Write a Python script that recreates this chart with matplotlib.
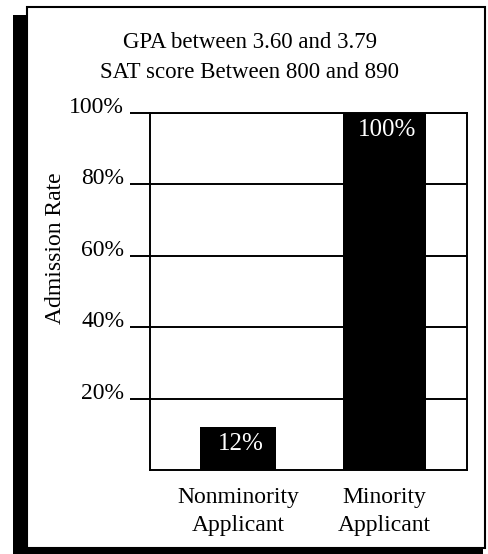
import matplotlib
matplotlib.use("Agg")
import matplotlib.pyplot as plt
from matplotlib.patches import Rectangle

plt.rcParams['font.family'] = ['Liberation Serif', 'DejaVu Serif']

###Donnees###
categories = ['Nonminority\nApplicant', 'Minority\nApplicant']
rates = [12, 100]
ytick_vals = [20, 40, 60, 80, 100]
title_lines = ['GPA between 3.60 and 3.79', 'SAT score Between 800 and 890']
#############

fig = plt.figure(figsize=(4.89, 5.54), dpi=100)

# cadre avec ombre noire
shadow = Rectangle((0.0266, 0.0), 0.961, 0.973, transform=fig.transFigure,
                   facecolor='black', edgecolor='none', zorder=-3)
box = Rectangle((0.0552, 0.0108), 0.9366, 0.9765, transform=fig.transFigure,
                facecolor='white', edgecolor='black', linewidth=1.5, zorder=-2)
fig.add_artist(shadow)
fig.add_artist(box)

ax = fig.add_axes([0.3067, 0.1516, 0.955 - 0.3067, 0.796 - 0.1516])
x = list(range(len(categories)))
bars = ax.bar(x, rates, width=[0.52, 0.567], color='black', zorder=3)

ax.set_xlim(-0.60, 1.563)
ax.set_ylim(0, 100)
ax.set_yticks(ytick_vals)
ax.set_yticklabels([f"{v}%" for v in ytick_vals], fontsize=17)
for lab in ax.get_yticklabels():
    lab.set_verticalalignment('baseline')
ax.set_xticks(x)
ax.set_xticklabels(categories, fontsize=17, linespacing=1.45)
ax.tick_params(axis='x', length=0, pad=12)
ax.tick_params(axis='y', length=14.5, width=1.4, pad=4, direction='out')
ax.yaxis.grid(True, color='black', linewidth=1.4)
ax.set_axisbelow(True)
for s in ax.spines.values():
    s.set_linewidth(1.4)

for b, v in zip(bars, rates):
    ax.annotate(f"{v}%", (b.get_x() + b.get_width() / 2, v), xytext=(2, -4),
                textcoords='offset points', ha='center', va='top',
                color='white', fontsize=18, zorder=4)

ax.set_ylabel('Admission Rate', fontsize=17)
ax.yaxis.set_label_coords(-0.265, 0.62)

fig.text(0.511, 0.896, '\n'.join(title_lines), ha='center', va='center',
         fontsize=16.5, linespacing=1.55)

fig.savefig('out.png', dpi=100)
